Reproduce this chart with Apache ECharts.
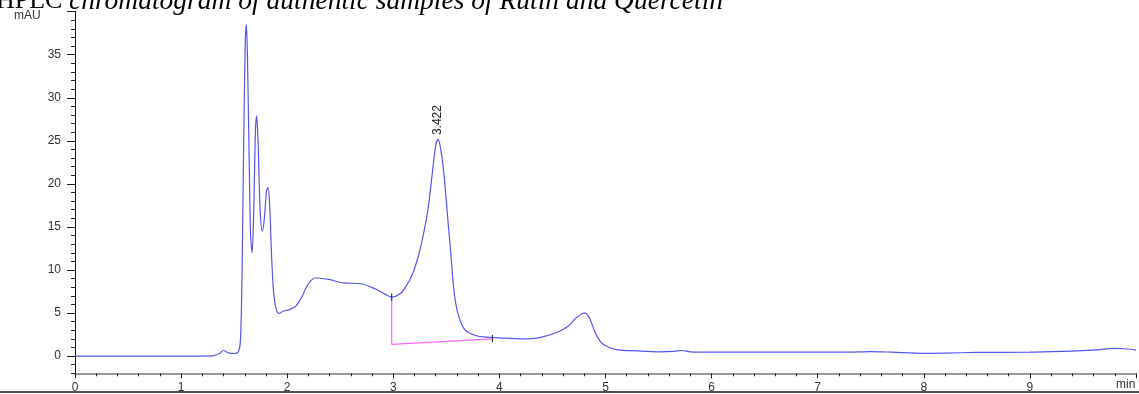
<!DOCTYPE html>
<html>
<head>
<meta charset="utf-8">
<script src="https://cdn.jsdelivr.net/npm/echarts@6/dist/echarts.min.js"></script>
<style>
html,body{margin:0;padding:0;background:#fff;}
#chart{width:1139px;height:394px;}
</style>
</head>
<body>
<div id="chart"></div>
<script>
// Retention time (min) and absorbance (mAU)
var timeMin = [0.00,0.50,1.00,1.30,1.36,1.40,1.44,1.50,1.54,1.56,1.575,1.59,1.605,1.615,1.625,1.64,1.655,1.67,1.685,1.70,1.712,1.725,1.745,1.765,1.785,1.805,1.82,1.835,1.855,1.875,1.90,1.925,1.96,2.02,2.08,2.13,2.20,2.27,2.39,2.53,2.70,2.83,2.92,2.985,3.06,3.12,3.18,3.24,3.29,3.33,3.37,3.40,3.422,3.44,3.47,3.50,3.52,3.545,3.565,3.59,3.62,3.66,3.70,3.80,3.95,4.10,4.27,4.40,4.55,4.65,4.72,4.78,4.81,4.85,4.90,4.95,5.00,5.10,5.30,5.50,5.65,5.72,5.80,6.00,6.50,7.00,7.30,7.50,7.70,8.00,8.20,8.50,9.00,9.30,9.60,9.80,9.90,10.00];
var signalMAU = [0.0,0.0,0.0,0.02,0.3,0.65,0.4,0.3,0.5,2.0,10,25,36.5,38.5,35,24,14,12.0,17,26,27.9,25,17,14.5,16,19.2,19.6,17.5,11,7,5.3,4.95,5.2,5.4,5.8,6.7,8.4,9.1,8.9,8.5,8.4,7.8,7.2,6.85,7.2,8.1,9.5,11.8,14.5,17.3,21.5,24.5,25.2,24.5,22,18,15,11.5,8.4,6,4.5,3.3,2.8,2.3,2.15,2.05,2.0,2.2,2.8,3.5,4.4,4.95,5.0,4.4,2.8,1.7,1.2,0.75,0.6,0.5,0.55,0.65,0.5,0.45,0.45,0.45,0.47,0.52,0.45,0.32,0.35,0.42,0.45,0.55,0.7,0.9,0.85,0.7];
// Integration baseline for the 3.422 peak
var baselineTime = [2.985, 2.985, 3.934];
var baselineMAU = [6.9, 1.36, 2.0];
var peakStartMark = [[2.985, 6.4], [2.985, 7.3]];
var peakEndMark = [[3.934, 1.6], [3.934, 2.45]];
var peakTime = 3.422;
var peakHeight = 25.2;
var peakLabel = '3.422';
var xTicks = [0,1,2,3,4,5,6,7,8,9];
var yTickLabels = [0,5,10,15,20,25,30,35];
var yMajorTicks = [0,5,10,15,20,25,30,35,40];
var titleBold = 'HPLC ';
var titleItalic = 'chromatogram of authentic samples of Rutin and Quercetin';

var chart = echarts.init(document.getElementById('chart'), null, {renderer:'canvas'});
var lineData = timeMin.map(function(t,i){return [t, signalMAU[i]];});
var baseData = baselineTime.map(function(t,i){return [t, baselineMAU[i]];});

var option = {
  animation:false,
  backgroundColor:'#fff',
  grid:{left:75, right:-2, top:11.7, bottom:20.7},
  xAxis:{
    type:'value', min:0, max:10, interval:1,
    axisLine:{onZero:false, lineStyle:{color:'#9a9a9a', width:2}},
    axisTick:{length:5, lineStyle:{color:'#222', width:1}},
    minorTick:{show:true, splitNumber:5, length:3, lineStyle:{color:'#222', width:1}},
    axisLabel:{margin:8, color:'#333', fontSize:12, fontFamily:'Liberation Sans',
      formatter:function(v){return xTicks.indexOf(v)>=0 ? String(v) : '';}},
    splitLine:{show:false}
  },
  yAxis:[{
    type:'value', min:-2, max:40, interval:1,
    axisLine:{show:true, lineStyle:{color:'#111', width:1}},
    axisTick:{show:true, length:4, lineStyle:{color:'#222'}},
    axisLabel:{show:false},
    splitLine:{show:false}
  },{
    type:'value', min:-2, max:40, interval:1, position:'left',
    axisLine:{show:true, lineStyle:{color:'#111', width:1}},
    axisTick:{show:true, length:8, customValues:yMajorTicks, lineStyle:{color:'#222'}},
    axisLabel:{show:true, customValues:yTickLabels, margin:14, color:'#333', fontSize:12, fontFamily:'Liberation Sans'},
    splitLine:{show:false}
  }],
  series:[{
    type:'line', data:lineData, yAxisIndex:0,
    symbol:'none', smooth:0.3,
    lineStyle:{color:'#5656f2', width:1.2},
    markPoint:{
      symbol:'circle', symbolSize:0,
      data:[{coord:[peakTime, peakHeight]}],
      label:{show:true, formatter:peakLabel, position:'top', distance:4, rotate:90,
        align:'left', verticalAlign:'middle', color:'#222', fontSize:12, fontFamily:'Liberation Sans'}
    }
  },{
    type:'line', data:baseData, yAxisIndex:0, symbol:'none',
    lineStyle:{color:'#ff66ff', width:1.2}, z:1
  },{
    type:'line', data:peakStartMark, yAxisIndex:0, symbol:'none',
    lineStyle:{color:'#222', width:1}
  },{
    type:'line', data:peakEndMark, yAxisIndex:0, symbol:'none',
    lineStyle:{color:'#222', width:1}
  }],
  graphic:[{
    type:'text', left:-4, top:-12,
    style:{
      text:'{a|'+titleBold+'}{b|'+titleItalic+'}',
      rich:{
        a:{fontFamily:'Liberation Serif', fontSize:26, fill:'#000'},
        b:{fontFamily:'Liberation Serif', fontSize:27.5, fontStyle:'italic', fill:'#000'}
      }
    }
  },{
    type:'text', left:14, top:10,
    style:{text:'mAU', fontFamily:'Liberation Sans', fontSize:12, fill:'#333'}
  },{
    type:'text', left:1116, top:379,
    style:{text:'min', fontFamily:'Liberation Sans', fontSize:12, fill:'#333'}
  },{
    type:'line', shape:{x1:0, y1:392, x2:1139, y2:392},
    style:{stroke:'#555', lineWidth:2}
  }]
};
chart.setOption(option);
</script>
</body>
</html>
